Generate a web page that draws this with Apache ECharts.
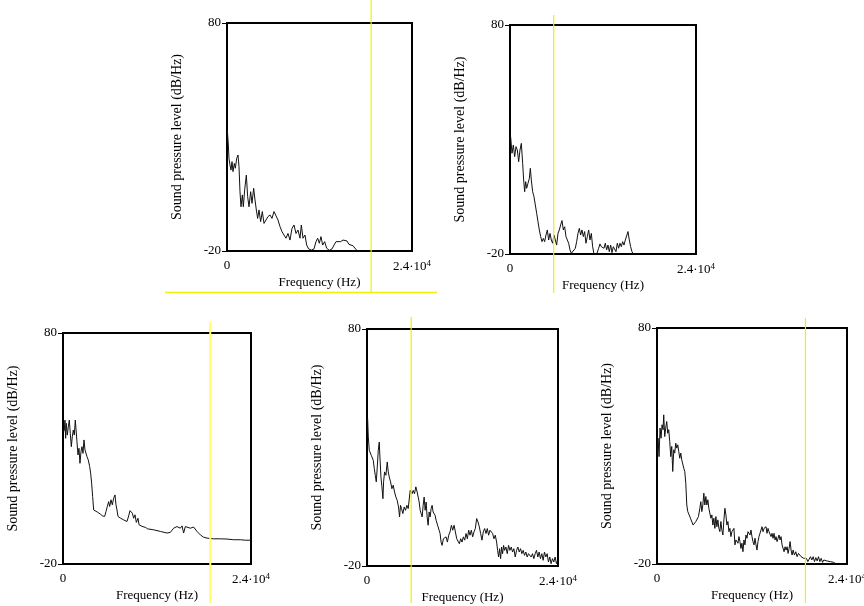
<!DOCTYPE html>
<html>
<head>
<meta charset="utf-8">
<script src="https://cdn.jsdelivr.net/npm/echarts@6/dist/echarts.min.js"></script>
<style>
  html, body { margin: 0; padding: 0; background: #fff; }
  #main { width: 864px; height: 606px; }
</style>
</head>
<body>
<div id="main"></div>
<script>
// frequency (Hz) / level (dB/Hz)
const hz1 = [43,173,259,389,519,649,778,951,1081,1254,1427,1557,1686,1816,1989,2119,2292,2508,2681,2854,3070,3243,3459,3632,3805,3978,4151,4367,4583,4800,5059,5318,5578,5837,6097,6356,6616,6875,7135,7394,7654,7913,8172,8432,8691,8951,9210,9470,9643,9859,10118,10334,10594,10940,11286,11545,11761,11977,12194,12410,12669,12929,13275,13621,13880,14140,14399,14745,15048,15307,15566,15826,16085,16345,16604,16907];
const db1 = [33.1,26.5,20.6,17.7,15.5,19.2,14.8,18.4,16.3,20.6,22.1,17.0,6.0,-0.6,4.6,-0.6,6.8,13.3,3.8,-0.6,6.0,0.9,7.5,2.4,-2.0,-5.7,-2.0,-7.1,-2.7,-7.9,-6.4,-4.9,-4.2,-5.7,-2.7,-3.5,-6.4,-9.3,-11.5,-13.0,-14.4,-12.3,-15.2,-10.1,-8.6,-12.3,-10.8,-14.4,-8.6,-14.4,-13.0,-17.4,-19.1,-19.6,-19.1,-15.9,-14.4,-16.6,-13.7,-17.4,-15.9,-18.8,-19.7,-19.1,-17.4,-15.9,-15.2,-15.9,-15.2,-15.9,-15.6,-17.1,-16.6,-17.7,-18.5,-20.0];

const hz2 = [86,258,430,602,774,946,1118,1290,1462,1634,1763,1892,2021,2150,2322,2494,2623,2752,2924,3096,3268,3440,3612,3784,3956,4128,4300,4472,4644,4816,4988,5160,5332,5504,5676,5848,6020,6192,6364,6536,6708,6880,7052,7224,7396,7568,7740,7912,8170,8428,8600,8772,8944,9116,9288,9460,9632,9804,9976,10148,10320,10492,10664,10836,11180,11438,11610,11782,11954,12126,12298,12470,12642,12814,12986,13158,13330,13502,13674,13846,14018,14190,14362,14534,14706,14878,15050,15222,15394,15566,15738,15910];
const db2 = [31.2,24.0,27.6,22.5,26.9,25.4,20.3,25.4,28.3,19.6,12.3,7.2,11.6,8.7,10.9,13.0,17.4,12.3,7.2,5.0,1.4,-2.2,-5.9,-9.5,-12.4,-14.6,-13.2,-14.6,-11.7,-9.5,-13.9,-11.0,-13.9,-15.3,-11.7,-13.9,-16.1,-11.0,-9.5,-7.3,-5.4,-9.5,-8.1,-12.4,-11.7,-15.3,-18.2,-19.7,-20.0,-17.5,-14.6,-11.0,-8.8,-11.7,-9.5,-12.4,-10.2,-15.3,-12.4,-9.5,-13.9,-11.0,-16.8,-20.0,-20.1,-17.5,-15.6,-16.8,-16.1,-17.5,-15.3,-18.2,-16.1,-19.0,-16.1,-19.4,-16.8,-16.1,-19.0,-15.3,-17.5,-15.3,-16.8,-14.6,-16.1,-13.9,-12.1,-10.2,-13.9,-16.8,-19.0,-20.0];

const hz3 = [40,166,251,336,421,549,677,805,932,1060,1188,1315,1443,1571,1656,1784,1911,2039,2167,2294,2422,2550,2677,2805,2933,3061,3231,3401,3529,3656,3784,3912,4125,4423,4763,5061,5317,5487,5658,5828,5955,6126,6296,6466,6637,6764,6892,7020,7190,7360,7573,7743,7956,8169,8382,8552,8723,8850,9020,9191,9361,9574,9702,9872,10085,10298,10553,10809,11064,11570,12425,13281,13707,14124,14549,14979,15192,15400,15613,15835,16256,16677,17112,17533,17955,18389,19232,20087,20943,21786,22641,23280,24000];
const db3 = [37.0,38.0,42.3,34.4,40.9,35.8,39.4,42.3,36.5,30.8,35.1,38.0,35.8,42.3,43.0,32.9,27.2,30.1,23.6,28.6,30.8,27.9,33.7,29.4,30.1,26.5,25.0,22.2,19.3,15.0,9.2,3.4,3.1,2.4,1.6,0.8,0.6,2.7,4.9,7.0,4.9,7.8,5.6,8.5,9.9,5.6,3.4,0.6,1.3,-0.2,0.3,-0.9,-1.2,-1.6,0.8,3.1,3.7,2.0,-0.2,1.3,-2.0,-0.2,-3.0,-2.3,-3.7,-4.5,-4.2,-4.8,-4.3,-5.2,-5.9,-6.6,-6.3,-4.5,-3.8,-4.5,-3.5,-6.6,-3.8,-3.0,-4.5,-4.0,-5.9,-7.4,-8.4,-8.8,-9.1,-9.1,-9.2,-9.5,-9.5,-9.7,-9.7];

const hz4 = [79,163,288,414,539,664,789,915,1040,1165,1290,1416,1541,1625,1750,1875,2001,2084,2210,2377,2544,2669,2795,2962,3129,3296,3463,3630,3797,3964,4089,4214,4340,4507,4674,4841,5009,5176,5343,5427,5552,5677,5802,5969,6136,6304,6429,6554,6679,6805,6930,7055,7180,7306,7431,7556,7681,7807,7932,8057,8182,8308,8433,8558,8683,8809,8934,9059,9184,9310,9435,9602,9769,9936,10103,10270,10438,10605,10772,10939,11106,11273,11440,11607,11774,11941,12109,12276,12443,12610,12777,12944,13111,13278,13445,13612,13780,13947,14114,14281,14448,14615,14782,14949,15116,15283,15451,15618,15785,15952,16119,16286,16411,16536,16662,16787,16912,17037,17162,17288,17455,17622,17789,17956,18123,18290,18457,18625,18792,18959,19126,19293,19460,19627,19794,19961,20128,20295,20462,20629,20797,20964,21131,21298,21465,21632,21799,21966,22133,22300,22468,22635,22802,22969,23136,23303,23470,23637,23804,23971];
const db4 = [42.2,34.4,28.8,28.1,26.7,27.4,24.6,21.1,18.3,15.5,21.8,28.8,32.3,26.0,17.6,13.4,8.4,15.5,19.7,18.3,23.9,19.7,17.6,15.5,12.6,14.1,11.2,9.1,7.7,4.9,0.7,5.6,4.2,2.1,4.9,3.5,5.6,4.2,4.9,11.9,12.6,10.5,11.9,10.5,13.4,11.2,9.1,7.0,3.5,2.1,0.7,5.6,9.1,3.5,7.0,0.7,-2.8,2.8,0.7,4.2,5.6,2.8,3.5,1.4,-0.7,-1.4,-3.5,-4.9,-6.3,-9.9,-11.3,-8.5,-9.1,-7.7,-9.9,-7.0,-5.6,-2.8,-4.9,-2.8,-5.6,-8.5,-9.1,-10.6,-8.5,-9.9,-7.7,-9.1,-6.3,-8.5,-4.9,-7.0,-4.9,-7.7,-5.6,-4.2,0.0,-1.4,-3.5,-6.3,-9.1,-5.6,-4.2,-6.3,-4.2,-7.0,-4.9,-4.2,-6.3,-8.5,-7.0,-9.9,-13.4,-16.2,-12.7,-16.9,-12.0,-14.8,-11.3,-13.4,-12.0,-14.8,-11.3,-13.4,-12.0,-14.1,-12.7,-16.2,-13.4,-12.0,-14.1,-12.7,-14.8,-13.4,-15.5,-14.1,-16.2,-14.8,-14.1,-16.2,-14.8,-16.9,-14.8,-13.4,-16.2,-14.1,-16.9,-14.8,-17.6,-14.1,-16.2,-14.8,-18.3,-16.2,-19.0,-16.9,-18.3,-16.2,-19.0,-17.6];

const hz5 = [46,131,258,384,511,638,764,849,976,1102,1229,1356,1482,1609,1736,1862,1989,2116,2242,2369,2496,2622,2749,2876,3002,3129,3256,3382,3509,3636,3762,3889,4058,4227,4396,4565,4734,4903,5072,5241,5410,5537,5663,5790,5917,6043,6170,6297,6423,6550,6677,6803,6930,7057,7183,7310,7437,7563,7690,7817,7944,8070,8197,8324,8450,8577,8704,8830,8957,9084,9210,9337,9464,9590,9717,9844,9971,10097,10224,10351,10477,10604,10730,10857,10984,11110,11237,11364,11490,11617,11744,11870,11997,12124,12250,12377,12504,12630,12757,12884,13010,13137,13264,13390,13517,13644,13771,13897,14024,14151,14277,14404,14531,14657,14784,14911,15037,15164,15291,15417,15544,15671,15797,15924,16051,16178,16304,16431,16558,16684,16811,16938,17064,17191,17360,17529,17698,17866,18035,18204,18373,18542,18711,18880,19049,19218,19387,19556,19725,19894,20063,20232,20401,20570,20739,20908,21077,21245,21456,21668,21879,22090,22301,22512];
const db5 = [26.2,33.3,25.5,37.6,33.3,39.0,36.9,43.2,34.0,37.6,40.4,35.4,36.9,31.9,25.5,29.8,19.2,28.4,27.0,31.2,29.1,30.5,27.7,24.8,27.0,24.1,24.8,20.6,19.2,14.2,5.0,2.2,0.8,-0.6,-1.3,-3.5,-4.2,-2.0,-1.3,0.1,3.6,6.4,2.2,5.0,10.0,5.0,8.6,5.0,7.2,3.6,4.3,-0.6,0.8,-3.5,-0.6,-4.9,0.1,-4.2,-1.3,-4.9,-6.3,-2.0,-5.6,-7.7,-1.3,3.6,0.8,-3.5,-2.0,-6.3,-4.9,-8.4,-6.3,-7.0,-4.9,-11.9,-9.8,-9.1,-11.2,-8.4,-10.5,-13.4,-11.2,-14.8,-9.8,-11.9,-7.7,-9.1,-6.3,-5.6,-7.7,-5.6,-8.4,-10.5,-11.9,-9.1,-11.9,-14.1,-10.5,-8.4,-7.0,-5.6,-4.2,-6.3,-4.9,-5.6,-4.2,-7.0,-4.9,-6.3,-5.6,-8.4,-7.0,-9.1,-7.0,-9.8,-8.4,-10.5,-9.1,-7.7,-9.8,-8.4,-11.9,-12.7,-14.8,-12.7,-14.1,-12.7,-15.5,-13.4,-10.5,-14.1,-16.2,-14.1,-16.2,-14.8,-16.9,-15.5,-16.2,-16.9,-16.2,-17.6,-18.3,-17.6,-19.0,-18.3,-16.9,-18.3,-16.9,-19.0,-17.3,-18.7,-16.9,-19.0,-17.6,-19.3,-18.3,-19.0,-18.7,-19.3,-19.0,-19.4,-19.3,-19.7];

// yellow cursor frequency for each panel
const markerHz = [18700, 5640, 18800, 5550, 18750];

const xTicks = [0, 24000];
const yTicks = [-20, 80];

const spectra = [[hz1, db1], [hz2, db2], [hz3, db3], [hz4, db4], [hz5, db5]];

// plot boxes: left, top, width, height
const boxes = [
    [227, 23, 185, 228],
    [510, 25, 186, 229],
    [63, 333, 188, 231],
    [367, 329, 191, 237],
    [657, 328, 190, 236],
];
// vertical extent of the yellow cursor lines: top, bottom, width, colour
const cursors = [
    [0, 292, 1.2, '#f0f000'],
    [15, 293, 1.2, '#f0f000'],
    [322, 603, 2, '#ffff66'],
    [317, 603, 1.2, '#f0f000'],
    [318, 603, 1.2, '#f0f000'],
];

const font = 'Liberation Serif';

const grid = [], xAxis = [], yAxis = [], series = [];

boxes.forEach(([left, top, width, height], i) => {
    grid.push({ left, top, width, height, show: true, borderColor: '#000', borderWidth: 2, outerBoundsMode: 'none' });
    xAxis.push({
        type: 'value', gridIndex: i, min: 0, max: 24000,
        axisLine: { show: false }, axisTick: { show: false }, splitLine: { show: false },
        axisLabel: {
            customValues: xTicks, margin: 8, color: '#000', fontFamily: font, fontSize: 13,
            formatter: v => v === 0 ? '0' : `{n|${v / 1e4}·10}{s|4}`,
            rich: {
                n: { fontFamily: font, fontSize: 13, color: '#000', lineHeight: 16 },
                s: { fontFamily: font, fontSize: 9, color: '#000', lineHeight: 16, verticalAlign: 'top', padding: [0, 0, 7, 0] },
            },
        },
        name: 'Frequency (Hz)', nameLocation: 'middle', nameGap: 23,
        nameTextStyle: { fontFamily: font, fontSize: 13, color: '#000' },
    });
    yAxis.push({
        type: 'value', gridIndex: i, min: -20, max: 80,
        axisLine: { show: false }, splitLine: { show: false },
        axisTick: { show: true, customValues: yTicks, length: 5, lineStyle: { color: '#000', width: 1 } },
        axisLabel: { customValues: yTicks, margin: 6, color: '#000', fontFamily: font, fontSize: 13 },
        name: 'Sound pressure level (dB/Hz)', nameLocation: 'middle', nameGap: 43,
        nameTextStyle: { fontFamily: font, fontSize: 14, color: '#000' },
    });
    const [hz, db] = spectra[i];
    series.push({
        type: 'line', xAxisIndex: i, yAxisIndex: i,
        data: hz.map((f, k) => [f, db[k]]),
        showSymbol: false, symbol: 'none', silent: true, animation: false,
        lineStyle: { color: '#111', width: 1 }, z: 3,
    });
});

// overlay grids carrying the yellow cursor lines past the plot box
boxes.forEach(([left, , width], i) => {
    const [top, bottom, w, color] = cursors[i];
    const gi = boxes.length + i;
    grid.push({ left, top, width, height: bottom - top, show: false, outerBoundsMode: 'none' });
    xAxis.push({ type: 'value', gridIndex: gi, min: 0, max: 24000, show: false });
    yAxis.push({ type: 'value', gridIndex: gi, min: 0, max: 1, show: false });
    series.push({
        type: 'line', xAxisIndex: gi, yAxisIndex: gi,
        data: [[markerHz[i], 0], [markerHz[i], 1]],
        showSymbol: false, symbol: 'none', silent: true, animation: false,
        lineStyle: { color, width: w }, z: 5,
    });
});

const chart = echarts.init(document.getElementById('main'));
chart.setOption({
    backgroundColor: '#fff',
    animation: false,
    grid, xAxis, yAxis, series,
    graphic: [{
        type: 'line', silent: true, z: 5,
        shape: { x1: 165, y1: 292.5, x2: 437, y2: 292.5 },
        style: { stroke: '#f0f000', lineWidth: 1.5 },
    }],
});
window.addEventListener('resize', () => chart.resize());
</script>
</body>
</html>
